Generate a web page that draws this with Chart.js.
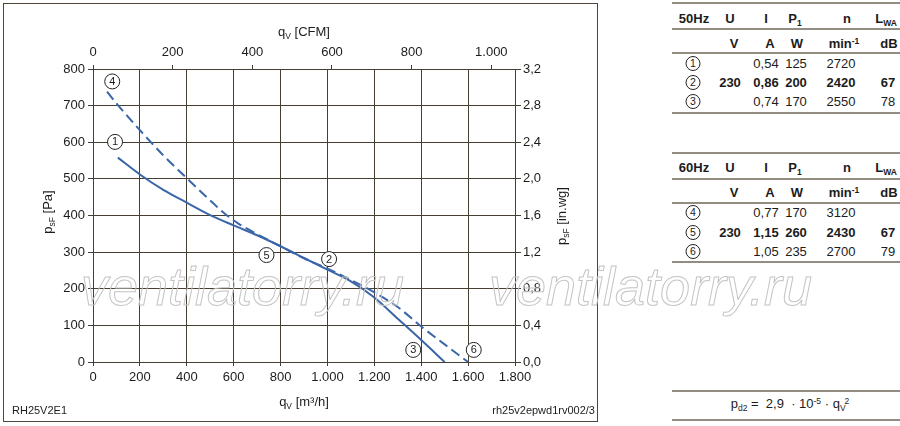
<!DOCTYPE html>
<html>
<head>
<meta charset="utf-8">
<script src="https://cdn.jsdelivr.net/npm/chart.js@4.4.1/dist/chart.umd.min.js"></script>
<style>
html,body{margin:0;padding:0;background:#fff;}
body{width:900px;height:426px;position:relative;overflow:hidden;font-family:"Liberation Sans",Arial,Helvetica,sans-serif;color:#1c1c1c;}
#chartBox{position:absolute;left:0;top:0;width:600px;height:426px;}
#frame{position:absolute;left:3px;top:3px;width:595px;height:419px;box-sizing:border-box;border:1.5px solid #4f473c;pointer-events:none;}
.t{position:absolute;transform:translate(-50%,-50%);white-space:nowrap;font-size:13px;line-height:15px;}
.r{position:absolute;transform:translate(-50%,-50%) rotate(-90deg);white-space:nowrap;font-size:13px;line-height:15px;}
.b{font-weight:bold;}
sub.s{font-size:8.5px;vertical-align:-3px;line-height:0;}
sup.s{font-size:8.5px;vertical-align:4px;line-height:0;}
.hl{position:absolute;left:672px;width:228px;height:2px;background:#938c82;}
.circ{display:inline-block;width:13px;height:13px;border:1px solid #222;border-radius:50%;font-size:10.5px;line-height:13px;text-align:center;font-weight:normal;}
.wm{position:absolute;font-style:italic;font-size:54px;line-height:54px;color:transparent;-webkit-text-stroke:1px #c4c4c4;white-space:nowrap;pointer-events:none;}
.foot{position:absolute;font-size:11px;line-height:13px;white-space:nowrap;}
</style>
</head>
<body>
<div id="chartBox"><canvas id="c" width="600" height="426"></canvas></div>
<div id="frame"></div>
<div id="overlay"></div>
<script>
// ---- data ----
const flow50 = [106, 200, 300, 400, 500, 600, 700, 800, 900, 1000, 1100, 1200, 1300, 1400, 1500];
const press50 = [558, 512, 470, 435, 401, 373, 346, 316, 284, 252, 220, 176, 118, 60, 0];
const flow60 = [60, 100, 200, 300, 400, 500, 560, 620, 700, 800, 900, 1000, 1100, 1200, 1300, 1400, 1500, 1600];
const press60 = [738, 706, 633, 564, 502, 441, 406, 378, 349, 316, 283, 255, 224, 190, 150, 97, 48, 0];
const labelNames = ['1', '2', '3', '4', '5', '6'];
const labelFlow = [94, 1007, 1366, 82, 740, 1624];
const labelPress = [601, 281, 33, 766, 292, 33];
const flowTicks = [0, 200, 400, 600, 800, 1000, 1200, 1400, 1600, 1800];
const pressTicks = [0, 100, 200, 300, 400, 500, 600, 700, 800];
const cfmTicks = [0, 200, 400, 600, 800, 1000];
const inwgTicks = [0, 0.4, 0.8, 1.2, 1.6, 2.0, 2.4, 2.8, 3.2];
const CFM_TO_M3H = 1.699;

const rows50 = [
  ['1', '', '0,54', '125', '2720', ''],
  ['2', '230', '0,86', '200', '2420', '67'],
  ['3', '', '0,74', '170', '2550', '78']
];
const rows60 = [
  ['4', '', '0,77', '170', '3120', ''],
  ['5', '230', '1,15', '260', '2430', '67'],
  ['6', '', '1,05', '235', '2700', '79']
];

// ---- chart ----
const gridColor = '#463e33';
const tickFont = {family: '"Liberation Sans", Arial, sans-serif', size: 13};
const tickColor = '#1c1c1c';
const blue = '#3a66a8';
function fmtThousands(v) { return String(Math.round(v)).replace(/\B(?=(\d{3})+(?!\d))/g, '.'); }
function pts(xs, ys) { return xs.map((x, i) => ({x: x, y: ys[i]})); }

const labelText = {
  id: 'labelText',
  afterDatasetsDraw(chart) {
    const ctx = chart.ctx;
    const meta = chart.getDatasetMeta(0);
    ctx.save();
    ctx.fillStyle = '#1c1c1c';
    ctx.font = '11px "Liberation Sans", Arial, sans-serif';
    ctx.textAlign = 'center';
    ctx.textBaseline = 'middle';
    meta.data.forEach((p, i) => ctx.fillText(labelNames[i], p.x, p.y + 0.5));
    ctx.restore();
  }
};

new Chart(document.getElementById('c'), {
  type: 'line',
  data: {
    datasets: [
      {
        data: pts(labelFlow, labelPress), showLine: false,
        pointRadius: 7.5, pointHoverRadius: 7.5, pointBackgroundColor: '#ffffff',
        pointBorderColor: '#222222', pointBorderWidth: 1, xAxisID: 'x', yAxisID: 'y'
      },
      {
        data: pts(flow50, press50), borderColor: blue, borderWidth: 2,
        pointRadius: 0, cubicInterpolationMode: 'monotone', fill: false, xAxisID: 'x', yAxisID: 'y'
      },
      {
        data: pts(flow60, press60), borderColor: blue, borderWidth: 2, borderDash: [10, 5],
        pointRadius: 0, cubicInterpolationMode: 'monotone', fill: false, xAxisID: 'x', yAxisID: 'y'
      }
    ]
  },
  options: {
    responsive: false, animation: false, devicePixelRatio: 1,
    layout: {padding: 0},
    plugins: {legend: {display: false}, tooltip: {enabled: false}},
    scales: {
      x: {
        type: 'linear', position: 'bottom', min: flowTicks[0], max: flowTicks[flowTicks.length - 1],
        afterBuildTicks(s) { s.ticks = flowTicks.map(v => ({value: v})); },
        ticks: {callback: v => fmtThousands(v), font: tickFont, color: tickColor, padding: 4, maxRotation: 0, autoSkip: false},
        grid: {color: gridColor, lineWidth: 1, tickLength: 4, tickColor: gridColor},
        border: {color: gridColor, width: 1},
        afterFit(s) { s.height = 64; }
      },
      x2: {
        type: 'linear', position: 'top', min: 0, max: flowTicks[flowTicks.length - 1] / CFM_TO_M3H,
        afterBuildTicks(s) { s.ticks = cfmTicks.map(v => ({value: v})); },
        ticks: {callback: v => fmtThousands(v), font: tickFont, color: tickColor, padding: 5, maxRotation: 0, autoSkip: false},
        grid: {drawOnChartArea: false, color: gridColor, tickLength: 4, tickColor: gridColor},
        border: {color: gridColor, width: 1},
        afterFit(s) { s.height = 69; }
      },
      y: {
        type: 'linear', position: 'left', min: pressTicks[0], max: pressTicks[pressTicks.length - 1],
        afterBuildTicks(s) { s.ticks = pressTicks.map(v => ({value: v})); },
        ticks: {font: tickFont, color: tickColor, padding: 3},
        grid: {color: gridColor, lineWidth: 1, tickLength: 5, tickColor: gridColor},
        border: {color: gridColor, width: 1},
        afterFit(s) { s.width = 93; }
      },
      y2: {
        type: 'linear', position: 'right', min: 0, max: inwgTicks[inwgTicks.length - 1],
        afterBuildTicks(s) { s.ticks = inwgTicks.map(v => ({value: v})); },
        ticks: {callback: v => v.toFixed(1).replace('.', ','), font: tickFont, color: tickColor, padding: 2},
        grid: {drawOnChartArea: false, color: gridColor, tickLength: 6, tickColor: gridColor},
        border: {color: gridColor, width: 1},
        afterFit(s) { s.width = 85; }
      }
    }
  },
  plugins: [labelText]
});

// ---- texts / table ----
const ov = document.getElementById('overlay');
function put(html, x, y, cls) {
  const d = document.createElement('div');
  d.className = cls || 't';
  d.style.left = x + 'px';
  d.style.top = y + 'px';
  d.innerHTML = html;
  ov.appendChild(d);
  return d;
}
function hline(y) {
  const d = document.createElement('div');
  d.className = 'hl';
  d.style.top = (y - 1) + 'px';
  ov.appendChild(d);
}
function circ(n) { return '<span class="circ">' + n + '</span>'; }

// axis titles
put('q<sub class="s">V</sub> [CFM]', 304, 31);
put('q<sub class="s">V</sub> [m³/h]', 304, 401);
put('p<sub class="s">sF</sub> [Pa]', 47, 212, 'r');
put('p<sub class="s">sF</sub> [in.wg]', 561, 216, 'r');

// footers
const f1 = document.createElement('div'); f1.className = 'foot'; f1.style.left = '12px'; f1.style.top = '404px'; f1.textContent = 'RH25V2E1'; ov.appendChild(f1);
const f2 = document.createElement('div'); f2.className = 'foot'; f2.style.right = (900 - 595) + 'px'; f2.style.top = '404px'; f2.textContent = 'rh25v2epwd1rv002/3'; ov.appendChild(f2);

// tables
function table(freq, rows, yTop) {
  const hdrX = [694, 730, 766, 795, 847, 886];
  const unitX = [0, 734, 770, 797, 844, 889];
  const dataX = [693, 730, 766, 796, 841, 888];
  hline(yTop);
  const hdr = [freq, 'U', 'I', 'P<sub class="s">1</sub>', 'n', 'L<sub class="s">WA</sub>'];
  hdr.forEach((h, i) => put(h, hdrX[i], yTop + 14.3, 't b'));
  hline(yTop + 26);
  const units = ['', 'V', 'A', 'W', 'min<sup class="s">-1</sup>', 'dB'];
  units.forEach((h, i) => { if (h) put(h, unitX[i], yTop + 39.5, 't b'); });
  hline(yTop + 50);
  rows.forEach((r, ri) => {
    const y = yTop + 59.7 + ri * 19.2;
    const bold = ri === 1;
    r.forEach((v, i) => {
      if (!v) return;
      put(i === 0 ? circ(v) : v, dataX[i], y, bold ? 't b' : 't');
    });
  });
  hline(yTop + 109.5);
}
table('50Hz', rows50, 3.3);
table('60Hz', rows60, 152.7);

// formula
hline(391);
put('p<sub class="s">d2</sub> = &nbsp;2,9 &nbsp;· 10<sup class="s">-5</sup> · q<sub class="s">V</sub><sup class="s" style="margin-left:-1px">2</sup>', 790, 403);
hline(420);

// watermark
['ventilatorry.ru', 'ventilatorry.ru'].forEach((w, i) => {
  const d = document.createElement('div');
  d.className = 'wm';
  d.style.left = (i === 0 ? 81 : 489) + 'px';
  d.style.top = '259px';
  d.textContent = w;
  ov.appendChild(d);
});
</script>
</body>
</html>
